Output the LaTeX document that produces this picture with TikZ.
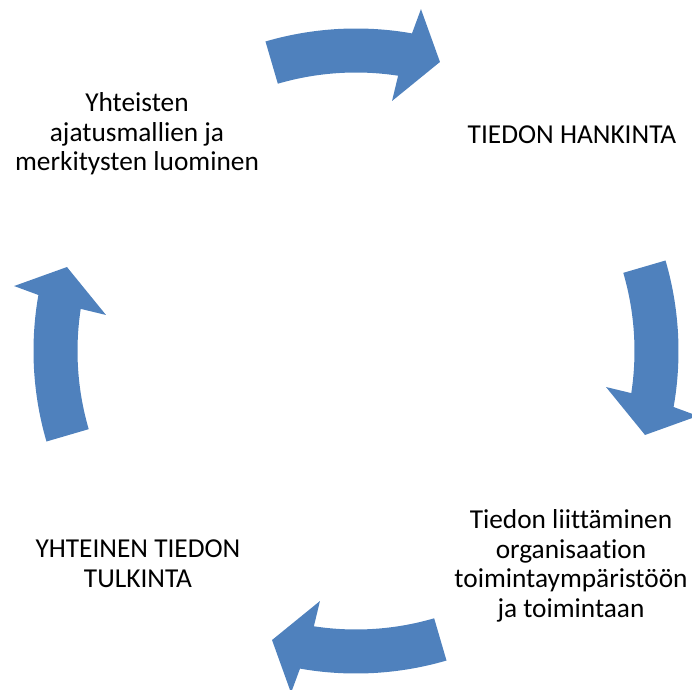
\documentclass[tikz,border=0pt]{standalone}
\usepackage{fontspec}
\setmainfont{Carlito}[Ligatures=NoCommon]
\usepackage{xcolor}
\definecolor{cycleblue}{HTML}{4F81BD}

\begin{document}
\begin{tikzpicture}[x=0.75pt, y=0.75pt,
every node/.style={align=center, font=\fontsize{20.5}{22.2}\selectfont},
cyclearrow/.style={fill=cycleblue}]

\useasboundingbox (-356,-338) rectangle (336,351);

\node (hankinta) at (216,216) {TIEDON HANKINTA};
\node (liittaminen) at (215,-215) {Tiedon liittäminen\\organisaation\\toimintaympäristöön\\ja toimintaan};
\node (tulkinta) at (-218,-213) {YHTEINEN TIEDON\\TULKINTA};
\node (luominen) at (-219,217) {Yhteisten\\ajatusmallien ja\\merkitysten luominen};

% arrows between the stages
\fill[cyclearrow] (106.3:322.5) arc[start angle=106.3, end angle=80, radius=322.5] -- (79.24:348) -- (73.8:301) -- (81.8:252.6) -- (81.3:278.5) arc[start angle=81.3, end angle=106.3, radius=278.5] -- cycle;
\fill[cyclearrow, rotate=-90] (106.3:322.5) arc[start angle=106.3, end angle=80, radius=322.5] -- (79.24:348) -- (73.8:301) -- (81.8:252.6) -- (81.3:278.5) arc[start angle=81.3, end angle=106.3, radius=278.5] -- cycle;
\fill[cyclearrow, rotate=-180] (106.3:322.5) arc[start angle=106.3, end angle=80, radius=322.5] -- (79.24:348) -- (73.8:301) -- (81.8:252.6) -- (81.3:278.5) arc[start angle=81.3, end angle=106.3, radius=278.5] -- cycle;
\fill[cyclearrow, rotate=-270] (106.3:322.5) arc[start angle=106.3, end angle=80, radius=322.5] -- (79.24:348) -- (73.8:301) -- (81.8:252.6) -- (81.3:278.5) arc[start angle=81.3, end angle=106.3, radius=278.5] -- cycle;

\end{tikzpicture}
\end{document}
